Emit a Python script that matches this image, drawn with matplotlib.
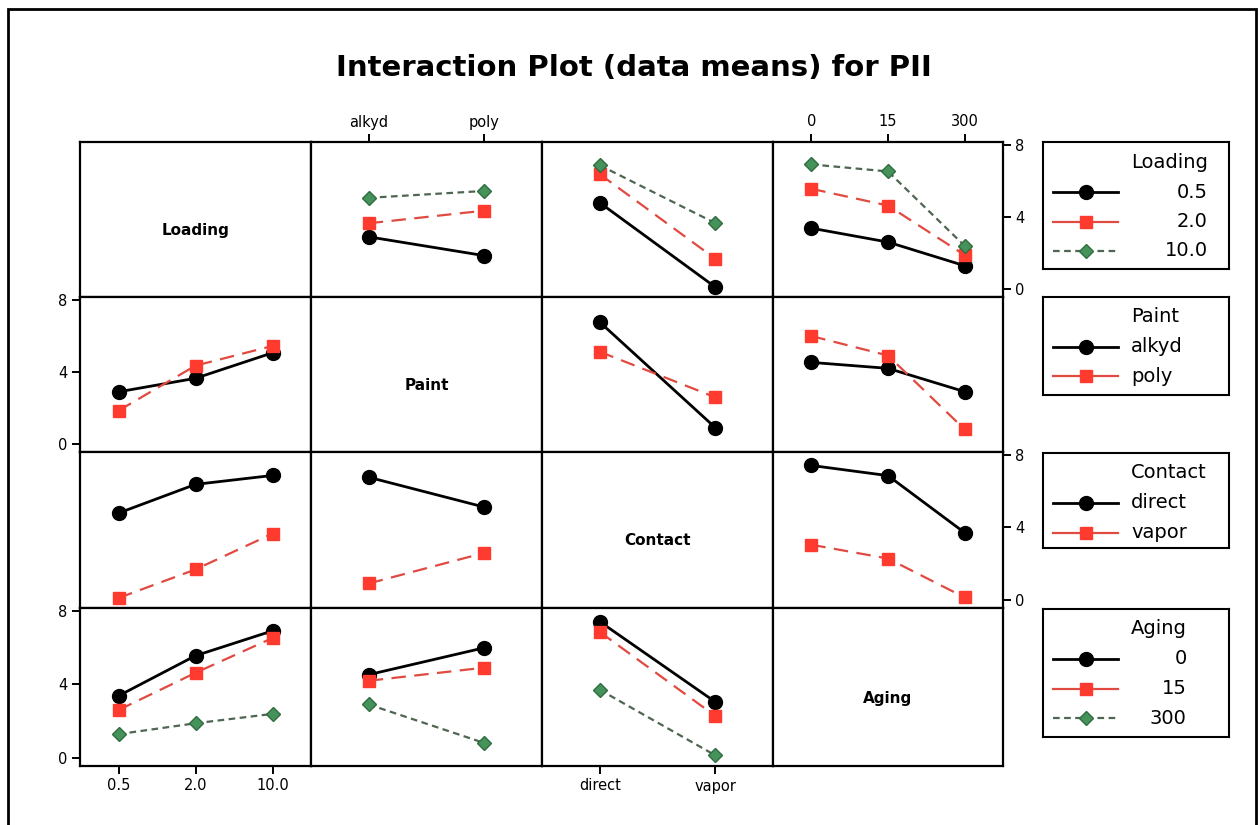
import numpy as np
import matplotlib
matplotlib.use("Agg")
import matplotlib.pyplot as plt
from matplotlib.patches import Rectangle

# factors and their levels
factors = ["Loading", "Paint", "Contact", "Aging"]
loading_levels = ["0.5", "2.0", "10.0"]
paint_levels = ["alkyd", "poly"]
contact_levels = ["direct", "vapor"]
aging_levels = ["0", "15", "300"]
levels = [loading_levels, paint_levels, contact_levels, aging_levels]

# cell means of PII (rows = first factor, columns = second factor)
loading_paint = [[2.89, 1.85], [3.64, 4.34], [5.05, 5.43]]
loading_contact = [[4.78, 0.11], [6.36, 1.68], [6.85, 3.65]]
loading_aging = [[3.37, 2.60, 1.29], [5.55, 4.62, 1.88], [6.90, 6.51, 2.39]]
paint_contact = [[6.75, 0.91], [5.11, 2.59]]
paint_aging = [[4.52, 4.19, 2.90], [5.98, 4.90, 0.81]]
contact_aging = [[7.40, 6.84, 3.70], [3.04, 2.28, 0.14]]

tables = {
    (0, 1): loading_paint, (0, 2): loading_contact, (0, 3): loading_aging,
    (1, 2): paint_contact, (1, 3): paint_aging, (2, 3): contact_aging,
}


def means(trace, xfac):
    """rows = levels of trace factor, columns = levels of x factor"""
    if (trace, xfac) in tables:
        return np.array(tables[(trace, xfac)])
    return np.array(tables[(xfac, trace)]).T


styles = [
    dict(color="black", lw=2.0, marker="o", ms=10, mfc="black", mec="black"),
    dict(color="#e04a40", lw=1.6, marker="s", ms=8, mfc="#ff3a2e",
         mec="#ff3a2e", dashes=(6.5, 3.8)),
    dict(color="#4e6652", lw=1.6, marker="D", ms=7.5, mfc="#45935a",
         mec="#2f6d40", dashes=(3.0, 2.0)),
]

W, H = 1259, 825
fig = plt.figure(figsize=(W / 100, H / 100), dpi=100)


def fx(px):
    return px / W


def fy(py):
    return 1 - py / H


fig.text(fx(634), fy(68), "Interaction Plot (data means) for PII",
         fontsize=21, fontweight="bold", ha="center", va="center")

# outer frame
fig.add_artist(Rectangle((fx(8), -0.02), (1256 - 8) / W, fy(9) + 0.02,
                         transform=fig.transFigure, fill=False, lw=2,
                         edgecolor="black"))

x_edges = [80, 311, 542, 773, 1003]
y_edges = [142, 297, 452, 608, 766]

for i in range(4):
    for j in range(4):
        x0, x1 = x_edges[j], x_edges[j + 1]
        y0, y1 = y_edges[i], y_edges[i + 1]
        ax = fig.add_axes([fx(x0), fy(y1), (x1 - x0) / W, (y1 - y0) / H])
        for s in ax.spines.values():
            s.set_linewidth(1.6)
        ax.set_xticks([])
        ax.set_yticks([])

        if i == j:
            ax.text(0.5, 0.43, factors[i], transform=ax.transAxes,
                    ha="center", va="center", fontsize=11, fontweight="bold")
            continue

        table = means(i, j)
        nx = len(levels[j])
        for k, row in enumerate(table):
            ax.plot(np.arange(nx), row, **styles[k])
        ax.set_xlim(-0.5, nx - 0.5)
        ax.set_ylim(-0.44, 8.14)

        ax.tick_params(direction="out", length=6, width=1.4,
                       labelsize=10.5, pad=3)
        if j == 0 and i in (1, 3):
            ax.set_yticks([0, 4, 8])
        if j == 3 and i in (0, 2):
            ax.set_yticks([0, 4, 8])
            ax.yaxis.tick_right()
        if i == 3 and j in (0, 2):
            ax.set_xticks(np.arange(nx), levels[j])
        if i == 0 and j in (1, 3):
            ax.set_xticks(np.arange(nx), levels[j])
            ax.xaxis.tick_top()

# legends, one box per factor
box_x = (1043, 1229)
box_y = [(142, 269), (297, 395), (453, 548), (609, 737)]
numeric = [True, False, False, True]

fig.canvas.draw()
renderer = fig.canvas.get_renderer()

for f, name in enumerate(factors):
    top, bot = box_y[f]
    lax = fig.add_axes([fx(box_x[0]), fy(bot), (box_x[1] - box_x[0]) / W,
                        (bot - top) / H])
    lax.set_xlim(*box_x)
    lax.set_ylim(bot, top)
    lax.set_xticks([])
    lax.set_yticks([])
    for s in lax.spines.values():
        s.set_linewidth(1.5)

    t = lax.text(1131, top + 20, name, fontsize=14, ha="left", va="center")
    bb = t.get_window_extent(renderer)
    right = lax.transData.inverted().transform((bb.x1, bb.y0))[0]

    for k, lev in enumerate(levels[f]):
        yy = top + 50 + 29.5 * k
        st = dict(styles[k])
        marker = st.pop("marker")
        ms = st.pop("ms")
        mfc = st.pop("mfc")
        mec = st.pop("mec")
        if k == 1:
            st.pop("dashes")  # short red handle reads as a solid line
        lax.plot([1053, 1118], [yy, yy], **st)
        lax.plot([1086], [yy], marker=marker, ms=ms, mfc=mfc, mec=mec,
                 ls="none")
        if numeric[f]:
            lax.text(right, yy, lev, fontsize=14, ha="right", va="center")
        else:
            lax.text(1131, yy, lev, fontsize=14, ha="left", va="center")

fig.savefig("out.png", dpi=100)
